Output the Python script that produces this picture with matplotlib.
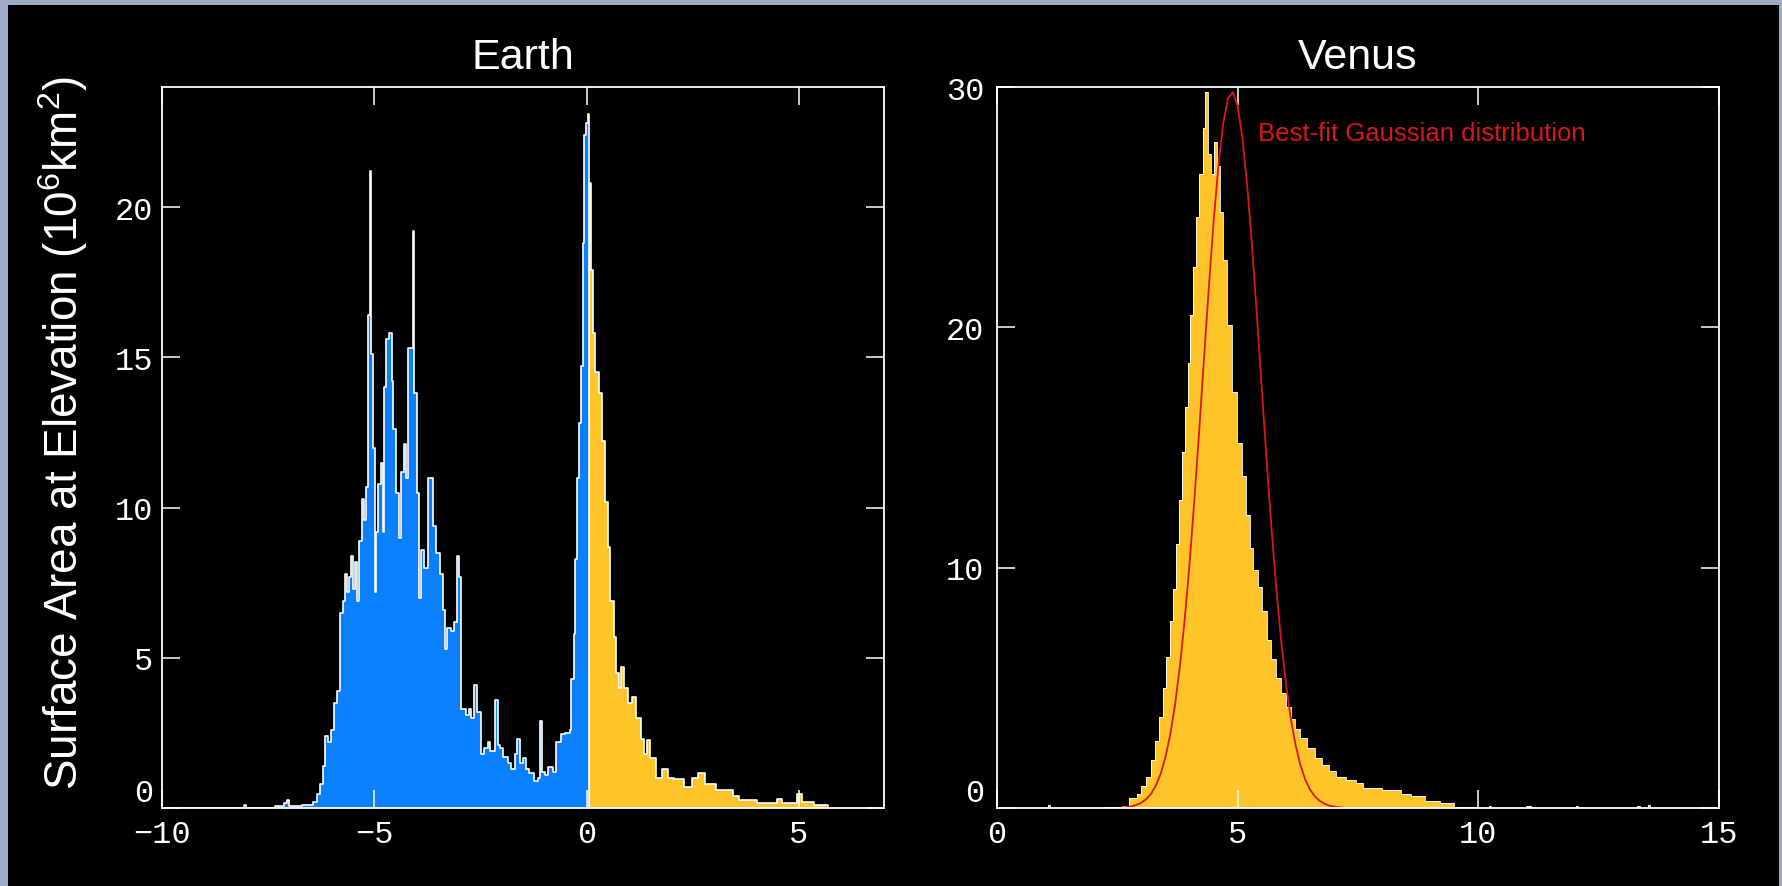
import matplotlib
matplotlib.use("Agg")
import matplotlib.pyplot as plt
from matplotlib.patches import Rectangle

# Earth hypsometry, step knots (left edge of each step, height in 10^6 km^2)
earth_ocean_x = [-10.0, -8.08, -8.02, -7.35, -7.12, -7.06, -7.0, -6.7, -6.45, -6.35,
                 -6.27, -6.22, -6.17, -6.08, -6.02, -5.96, -5.88, -5.8, -5.73, -5.69,
                 -5.64, -5.59, -5.55, -5.5, -5.45, -5.4, -5.35, -5.29, -5.24, -5.19,
                 -5.14, -5.11, -5.09, -5.03, -4.99, -4.96, -4.91, -4.85, -4.8, -4.77,
                 -4.72, -4.65, -4.59, -4.55, -4.49, -4.43, -4.37, -4.3, -4.26, -4.2,
                 -4.1, -4.07, -4.0, -3.94, -3.9, -3.83, -3.73, -3.63, -3.55, -3.46,
                 -3.38, -3.34, -3.3, -3.2, -3.12, -3.06, -3.0, -2.95, -2.85, -2.78,
                 -2.72, -2.65, -2.59, -2.5, -2.42, -2.33, -2.27, -2.16, -2.1, -2.04,
                 -1.96, -1.86, -1.78, -1.7, -1.64, -1.58, -1.5, -1.43, -1.36, -1.24,
                 -1.14, -1.1, -1.06, -0.98, -0.9, -0.8, -0.73, -0.6, -0.5, -0.4,
                 -0.36, -0.31, -0.27, -0.23, -0.18, -0.13, -0.09, -0.06, -0.02, 0.02,
                 0.06]
earth_ocean_y = [0.0, 0.1, 0.0, 0.05, 0.15, 0.25, 0.08, 0.1, 0.2, 0.45,
                 0.8, 1.4, 2.4, 2.2, 2.6, 3.5, 3.9, 6.5, 6.9, 7.8,
                 7.2, 7.7, 8.4, 7.3, 8.2, 6.9, 8.9, 10.3, 9.6, 10.7,
                 16.4, 21.2, 15.1, 12.0, 7.2, 9.2, 10.8, 11.5, 9.2, 14.0,
                 15.6, 15.8, 14.2, 12.6, 10.5, 9.0, 11.2, 12.1, 11.0, 15.3,
                 19.2, 13.8, 10.5, 7.0, 8.6, 8.0, 11.0, 9.4, 8.5, 7.8,
                 6.6, 5.3, 6.0, 5.9, 6.2, 8.4, 7.7, 3.3, 3.1, 3.3,
                 3.0, 4.1, 3.2, 1.8, 2.0, 2.2, 1.9, 3.6, 2.1, 2.0,
                 1.7, 1.5, 1.3, 1.8, 2.3, 1.5, 1.65, 1.3, 1.15, 0.9,
                 1.0, 2.9, 1.2, 1.1, 1.35, 1.2, 2.2, 2.45, 2.5, 2.6,
                 4.3, 5.8, 8.3, 11.0, 12.8, 14.7, 18.8, 22.4, 22.8, 23.1,
                 0.0]
earth_land_x = [0.06, 0.1, 0.14, 0.2, 0.28, 0.36, 0.44, 0.5, 0.56, 0.64,
                0.7, 0.76, 0.8, 0.88, 0.98, 1.07, 1.17, 1.28, 1.36, 1.42,
                1.5, 1.64, 1.77, 1.92, 2.05, 2.28, 2.47, 2.62, 2.78, 3.05,
                3.45, 3.58, 4.0, 4.47, 4.6, 4.95, 5.06, 5.35, 5.67]
earth_land_y = [20.8, 17.9, 15.8, 14.5, 13.8, 12.2, 10.2, 8.7, 6.9, 5.7,
                4.5, 4.0, 4.7, 4.0, 3.5, 3.7, 3.0, 2.3, 1.8, 2.25,
                1.65, 1.0, 1.3, 1.0, 0.95, 0.7, 1.0, 1.15, 0.8, 0.6,
                0.4, 0.25, 0.15, 0.3, 0.15, 0.45, 0.2, 0.1, 0.0]

# Venus hypsometry, step knots
venus_x = [0.0, 1.06, 1.1, 2.2, 2.6, 2.75, 2.9, 3.0, 3.1, 3.2,
           3.28, 3.36, 3.44, 3.52, 3.6, 3.66, 3.72, 3.78, 3.84, 3.9,
           3.96, 4.02, 4.08, 4.14, 4.2, 4.28, 4.33, 4.38, 4.44, 4.5,
           4.58, 4.64, 4.7, 4.77, 4.88, 4.98, 5.09, 5.18, 5.26, 5.32,
           5.42, 5.5, 5.6, 5.7, 5.8, 5.9, 6.0, 6.1, 6.2, 6.3,
           6.45, 6.6, 6.75, 6.9, 7.05, 7.25, 7.45, 7.6, 8.0, 8.4,
           8.6, 8.9, 9.2, 9.5, 9.97, 10.22, 10.27, 11.0, 11.1, 12.03,
           12.07, 13.3, 13.35, 13.52, 13.56, 15.0]
venus_y = [0.0, 0.12, 0.0, 0.05, 0.1, 0.4, 0.6, 0.9, 1.3, 2.0,
           2.8, 3.8, 5.0, 6.3, 7.8, 9.1, 11.0, 12.8, 14.8, 16.7,
           18.5, 20.5, 22.5, 24.6, 26.4, 28.3, 29.8, 27.2, 26.4, 27.7,
           26.7, 24.8, 22.8, 20.1, 17.3, 15.2, 13.8, 12.2, 10.8, 9.9,
           9.2, 8.2, 7.0, 6.2, 5.4, 4.8, 4.2, 3.7, 3.3, 2.9,
           2.5, 2.1, 1.8, 1.55, 1.3, 1.15, 1.05, 0.85, 0.75, 0.6,
           0.5, 0.3, 0.2, 0.05, 0.0, 0.1, 0.0, 0.08, 0.0, 0.1,
           0.0, 0.1, 0.0, 0.12, 0.0, 0.0]

# best-fit Gaussian curve
gauss_x = [2.6, 2.7, 2.8, 2.9, 3.0, 3.1, 3.2, 3.3, 3.4, 3.5,
           3.6, 3.7, 3.8, 3.9, 4.0, 4.1, 4.2, 4.3, 4.4, 4.5,
           4.6, 4.7, 4.8, 4.9, 5.0, 5.1, 5.2, 5.3, 5.4, 5.5,
           5.6, 5.7, 5.8, 5.9, 6.0, 6.1, 6.2, 6.3, 6.4, 6.5,
           6.6, 6.7, 6.8, 6.9, 7.0, 7.1, 7.2]
gauss_y = [0.02, 0.04, 0.07, 0.13, 0.22, 0.37, 0.59, 0.93, 1.42, 2.12,
           3.06, 4.31, 5.90, 7.85, 10.16, 12.80, 15.68, 18.68, 21.64, 24.39,
           26.73, 28.49, 29.53, 29.78, 29.21, 27.86, 25.85, 23.33, 20.47, 17.47,
           14.51, 11.71, 9.20, 7.02, 5.22, 3.77, 2.65, 1.81, 1.20, 0.78,
           0.49, 0.30, 0.18, 0.10, 0.06, 0.03, 0.01]

earth_xticks = [-10, -5, 0, 5]
earth_yticks = [0, 5, 10, 15, 20]
venus_xticks = [0, 5, 10, 15]
venus_yticks = [0, 10, 20, 30]

OCEAN = "#0a80ff"
LAND = "#ffc42a"
FIT = "#d81818"

plt.rcParams["font.family"] = ["Liberation Mono", "DejaVu Sans"]
plt.rcParams["mathtext.fontset"] = "custom"
plt.rcParams["mathtext.rm"] = "Liberation Sans"
plt.rcParams["mathtext.it"] = "Liberation Sans:italic"
plt.rcParams["axes.unicode_minus"] = True

W, H = 1783, 887
fig = plt.figure(figsize=(W / 100, H / 100), dpi=100, facecolor="#9dabc9")
fig.patches.append(Rectangle((8 / W, 0), (1779 - 8) / W, (H - 6) / H,
                             transform=fig.transFigure, facecolor="black",
                             edgecolor="none", zorder=-10))

ax1 = fig.add_axes([162 / W, 78 / H, 722 / W, 721 / H])
ax2 = fig.add_axes([997 / W, 78 / H, 722 / W, 721 / H])


def style_axes(ax, xticks, yticks, ypad):
    ax.set_facecolor("black")
    for sp in ax.spines.values():
        sp.set_color("white")
        sp.set_linewidth(1.3)
    ax.set_xticks(xticks)
    ax.set_yticks(yticks)
    ax.tick_params(direction="in", length=13, width=1.1, color="white",
                   top=True, right=True, labelcolor="white", labelsize=23)
    ax.tick_params(axis="x", pad=8)
    ax.tick_params(axis="y", pad=ypad)
    # the zero label sits a little above the baseline, as in the original
    ax.get_yticklabels()[0].set_verticalalignment("bottom")


# Earth
ax1.fill_between(earth_ocean_x, earth_ocean_y, step="post", color=OCEAN, linewidth=0)
ax1.fill_between(earth_land_x, earth_land_y, step="post", color=LAND, linewidth=0)
ax1.step(earth_ocean_x[:-1] + earth_land_x, earth_ocean_y[:-1] + earth_land_y,
         where="post", color="white", lw=1.2)
ax1.vlines(earth_land_x[0], 0, earth_land_y[0], color="white", lw=1.2)
ax1.set_xlim(-10, 7)
ax1.set_ylim(0, 24)
style_axes(ax1, earth_xticks, earth_yticks, 6)
ax1.set_title("Earth", color="white", fontsize=31, family="Liberation Sans", pad=14)

# Venus
ax2.fill_between(venus_x, venus_y, step="post", color=LAND, linewidth=0)
ax2.step(venus_x, venus_y, where="post", color="white", lw=0.6)
ax2.plot(gauss_x, gauss_y, color=FIT, lw=1.3)
ax2.text(5.43, 28.1, "Best-fit Gaussian distribution", color=FIT, fontsize=18.5,
         family="Liberation Sans", ha="left", va="center")
ax2.set_xlim(0, 15)
ax2.set_ylim(0, 30)
style_axes(ax2, venus_xticks, venus_yticks, 9)
ax2.set_title("Venus", color="white", fontsize=31, family="Liberation Sans", pad=14)

fig.text(63 / W, 1 - 433 / H, r"Surface Area at Elevation (10$^6$km$^2$)",
         rotation=90, color="white", fontsize=33, family="Liberation Sans",
         ha="center", va="center")

fig.savefig("out.png", dpi=100, facecolor=fig.get_facecolor())
